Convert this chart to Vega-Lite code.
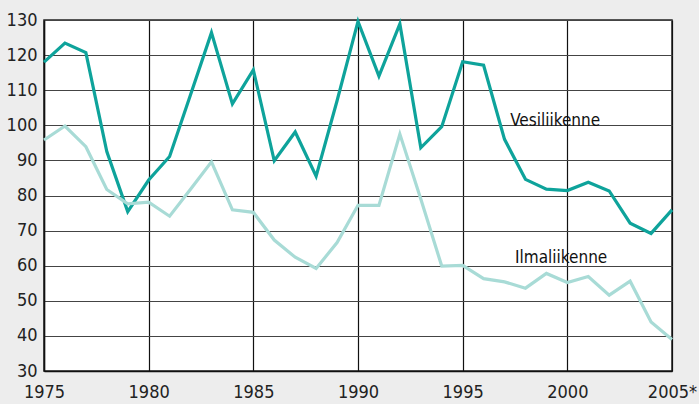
{
  "$schema": "https://vega.github.io/schema/vega-lite/v6.json",
  "autosize": "none",
  "width": 628,
  "height": 351,
  "padding": {"left": 44, "top": 20, "right": 27, "bottom": 33},
  "background": "#ededed",
  "view": {"fill": "white", "stroke": "#222", "strokeWidth": 1.5},
  "config": {"font": "DejaVu Sans Condensed, Liberation Sans, sans-serif"},
  "datasets": {
    "series": [
      {"year": 1975, "series": "Vesiliikenne", "value": 118.0},
      {"year": 1976, "series": "Vesiliikenne", "value": 123.4},
      {"year": 1977, "series": "Vesiliikenne", "value": 120.7},
      {"year": 1978, "series": "Vesiliikenne", "value": 92.5},
      {"year": 1979, "series": "Vesiliikenne", "value": 75.4},
      {"year": 1980, "series": "Vesiliikenne", "value": 84.4},
      {"year": 1981, "series": "Vesiliikenne", "value": 91.1},
      {"year": 1982, "series": "Vesiliikenne", "value": 108.7},
      {"year": 1983, "series": "Vesiliikenne", "value": 126.4},
      {"year": 1984, "series": "Vesiliikenne", "value": 106.1},
      {"year": 1985, "series": "Vesiliikenne", "value": 115.8},
      {"year": 1986, "series": "Vesiliikenne", "value": 89.9},
      {"year": 1987, "series": "Vesiliikenne", "value": 98.1},
      {"year": 1988, "series": "Vesiliikenne", "value": 85.5},
      {"year": 1989, "series": "Vesiliikenne", "value": 107.0},
      {"year": 1990, "series": "Vesiliikenne", "value": 129.6},
      {"year": 1991, "series": "Vesiliikenne", "value": 114.0},
      {"year": 1992, "series": "Vesiliikenne", "value": 128.9},
      {"year": 1993, "series": "Vesiliikenne", "value": 93.6},
      {"year": 1994, "series": "Vesiliikenne", "value": 99.6},
      {"year": 1995, "series": "Vesiliikenne", "value": 118.1},
      {"year": 1996, "series": "Vesiliikenne", "value": 117.1},
      {"year": 1997, "series": "Vesiliikenne", "value": 96.0},
      {"year": 1998, "series": "Vesiliikenne", "value": 84.6},
      {"year": 1999, "series": "Vesiliikenne", "value": 81.8},
      {"year": 2000, "series": "Vesiliikenne", "value": 81.4},
      {"year": 2001, "series": "Vesiliikenne", "value": 83.8},
      {"year": 2002, "series": "Vesiliikenne", "value": 81.3},
      {"year": 2003, "series": "Vesiliikenne", "value": 72.1},
      {"year": 2004, "series": "Vesiliikenne", "value": 69.2},
      {"year": 2005, "series": "Vesiliikenne", "value": 75.9},
      {"year": 1975, "series": "Ilmaliikenne", "value": 95.8},
      {"year": 1976, "series": "Ilmaliikenne", "value": 99.8},
      {"year": 1977, "series": "Ilmaliikenne", "value": 93.9},
      {"year": 1978, "series": "Ilmaliikenne", "value": 81.7},
      {"year": 1979, "series": "Ilmaliikenne", "value": 77.6},
      {"year": 1980, "series": "Ilmaliikenne", "value": 78.1},
      {"year": 1981, "series": "Ilmaliikenne", "value": 74.1},
      {"year": 1982, "series": "Ilmaliikenne", "value": 81.8},
      {"year": 1983, "series": "Ilmaliikenne", "value": 89.6},
      {"year": 1984, "series": "Ilmaliikenne", "value": 75.9},
      {"year": 1985, "series": "Ilmaliikenne", "value": 75.2},
      {"year": 1986, "series": "Ilmaliikenne", "value": 67.3},
      {"year": 1987, "series": "Ilmaliikenne", "value": 62.4},
      {"year": 1988, "series": "Ilmaliikenne", "value": 59.2},
      {"year": 1989, "series": "Ilmaliikenne", "value": 66.6},
      {"year": 1990, "series": "Ilmaliikenne", "value": 77.2},
      {"year": 1991, "series": "Ilmaliikenne", "value": 77.2},
      {"year": 1992, "series": "Ilmaliikenne", "value": 97.5},
      {"year": 1993, "series": "Ilmaliikenne", "value": 79.0},
      {"year": 1994, "series": "Ilmaliikenne", "value": 59.9},
      {"year": 1995, "series": "Ilmaliikenne", "value": 60.1},
      {"year": 1996, "series": "Ilmaliikenne", "value": 56.3},
      {"year": 1997, "series": "Ilmaliikenne", "value": 55.4},
      {"year": 1998, "series": "Ilmaliikenne", "value": 53.6},
      {"year": 1999, "series": "Ilmaliikenne", "value": 57.8},
      {"year": 2000, "series": "Ilmaliikenne", "value": 55.2},
      {"year": 2001, "series": "Ilmaliikenne", "value": 56.9},
      {"year": 2002, "series": "Ilmaliikenne", "value": 51.6},
      {"year": 2003, "series": "Ilmaliikenne", "value": 55.6},
      {"year": 2004, "series": "Ilmaliikenne", "value": 44.0},
      {"year": 2005, "series": "Ilmaliikenne", "value": 39.0}
    ],
    "labels": [
      {"year": 1997.27, "value": 99.8, "text": "Vesiliikenne"},
      {"year": 1997.5, "value": 60.7, "text": "Ilmaliikenne"}
    ]
  },
  "encoding": {
    "x": {
      "field": "year", "type": "quantitative",
      "scale": {"domain": [1975, 2005], "nice": false, "zero": false},
      "axis": {
        "title": null,
        "values": [1975, 1980, 1985, 1990, 1995, 2000, 2005],
        "labelExpr": "datum.value == 2005 ? '2005*' : datum.value",
        "grid": true, "gridColor": "#111", "gridWidth": 1.2, "gridOpacity": 1,
        "domain": true, "domainColor": "#111", "domainWidth": 1.5,
        "ticks": false, "labelPadding": 12,
        "labelFontSize": 18, "labelColor": "#222",
        "labelFlush": false, "labelOverlap": false
      }
    },
    "y": {
      "field": "value", "type": "quantitative",
      "scale": {"domain": [30, 130], "nice": false, "zero": false},
      "axis": {
        "title": null,
        "values": [30, 40, 50, 60, 70, 80, 90, 100, 110, 120, 130],
        "grid": true, "gridColor": "#444", "gridWidth": 1.2, "gridOpacity": 1,
        "domain": true, "domainColor": "#111", "domainWidth": 1.5,
        "ticks": false, "labelPadding": 7,
        "labelFontSize": 18, "labelColor": "#222",
        "labelFlush": false, "labelOverlap": false
      }
    }
  },
  "layer": [
    {
      "data": {"name": "series"},
      "mark": {"type": "line", "strokeWidth": 3.2, "strokeJoin": "miter"},
      "encoding": {
        "color": {
          "field": "series", "type": "nominal",
          "scale": {"domain": ["Vesiliikenne", "Ilmaliikenne"], "range": ["#0ea39b", "#a8dbd6"]},
          "legend": null
        }
      }
    },
    {
      "data": {"name": "labels"},
      "mark": {"type": "text", "align": "left", "baseline": "alphabetic", "fontSize": 17, "color": "#111"},
      "encoding": {
        "text": {"field": "text"}
      }
    }
  ]
}
